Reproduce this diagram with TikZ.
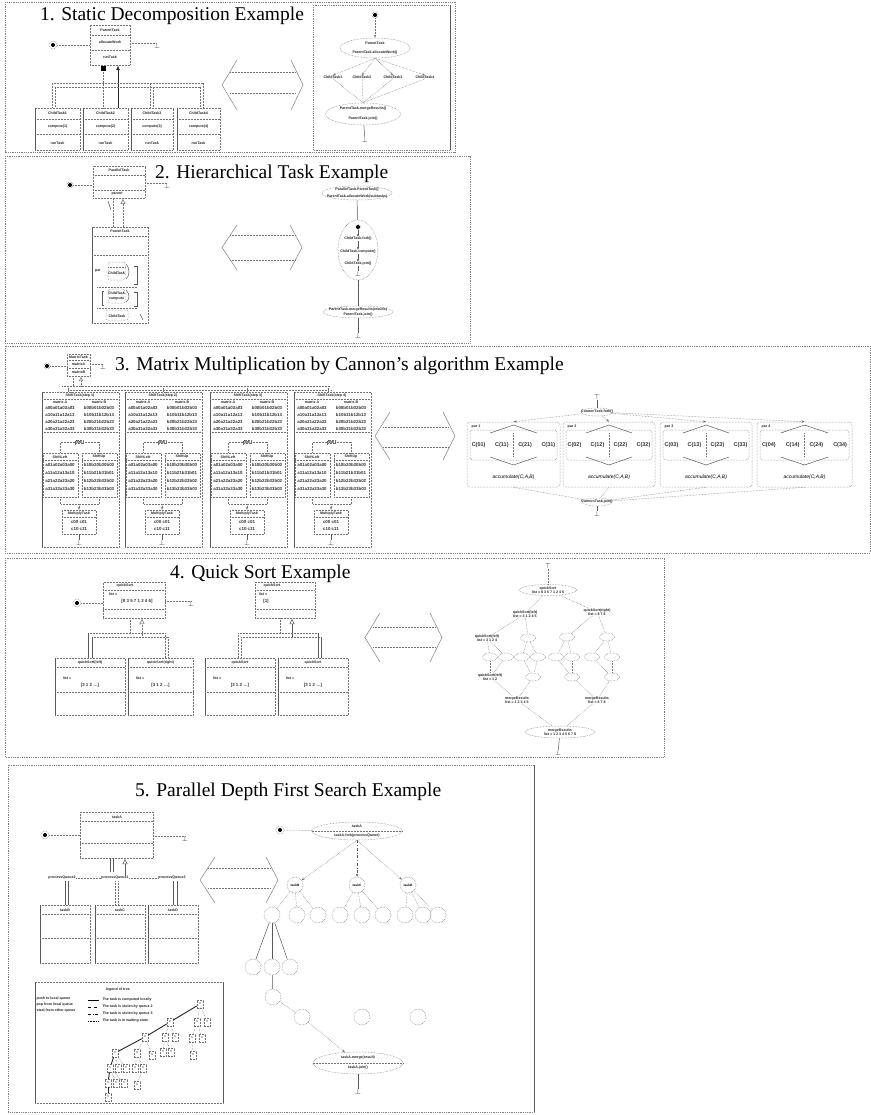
\documentclass[tikz,border=0pt]{standalone}
\usepackage{fontspec}
\setmainfont{Liberation Serif}
\newfontfamily\lsans{Liberation Sans}
\usetikzlibrary{shapes.geometric,fit,arrows.meta,calc}
\newcommand\chev[6]{%
  \pgfmathsetmacro\chm{(#3+#4)/2}%
  \draw[chv] (#1+15,#3) -- (#1,\chm) -- (#1+15,#4);
  \draw[chv] (#2-12,#3) -- (#2,\chm) -- (#2-12,#4);
  \draw[dl] (#1+8,#5) -- (#2-7,#5);
  \draw[dl] (#1+8,#6) -- (#2-7,#6);
}
\begin{document}
\begin{tikzpicture}[x=1pt,y=-1pt,
 frm/.style={draw=black!50,densely dotted,line width=0.8pt},
 dl/.style={draw=black!55,densely dotted,line width=0.5pt},
 sl/.style={draw=black!65,line width=0.5pt},
 tl/.style={draw=black!85,line width=0.9pt},
 chv/.style={draw=black!50,line width=0.5pt},
 bxs/.style={draw=black!55,densely dotted,line width=0.5pt,inner sep=0pt},
 ell/.style={ellipse,draw=black!55,densely dotted,line width=0.5pt,inner sep=0pt},
 sell/.style={ellipse,draw=black!55,densely dotted,line width=0.5pt,inner sep=0pt,minimum width=15pt,minimum height=8pt},
 cir/.style={circle,draw=black!55,densely dotted,line width=0.5pt,inner sep=0pt,minimum size=16pt,font=\lsans\bfseries\fontsize{3.2}{3.6}\selectfont},
 tx/.style={font=\lsans\bfseries\fontsize{3.6}{4.1}\selectfont,inner sep=0.3pt,text=black!85},
 mt/.style={font=\lsans\bfseries\fontsize{4.4}{5}\selectfont,inner sep=0pt,text=black!80},
 ttl/.style={font=\fontsize{19.5}{21}\selectfont,inner sep=0pt,anchor=west},
 initn/.style={circle,draw=black!55,densely dotted,line width=0.5pt,minimum size=8pt,inner sep=0pt,path picture={\fill[black] (path picture bounding box.center) circle (2pt);}},
 fin/.style={font=\fontsize{7}{7}\selectfont,inner sep=0pt,text=black!80},
 ar/.style={-{Stealth[length=3pt,width=2.4pt]}},
 oa/.style={-{Triangle[open,length=5pt,width=5pt]}},
 tn/.style={draw=black!55,densely dotted,line width=0.4pt,minimum width=6pt,minimum height=8pt,inner sep=0pt,font=\lsans\bfseries\fontsize{3}{3}\selectfont},
]
\useasboundingbox (0,0) rectangle (870,1115);
\fill[white] (0,0) rectangle (870,1115);

%%%%%%%%%%%%%%%%%%%% PANEL 1
\draw[frm] (5,2) rectangle (455,152);
\draw[frm] (313,5) rectangle (450,150);
\draw[sl] (450,5) -- (450,150);
\node[ttl] (T1) at (40,16) {1. Static Decomposition Example};
\node[bxs,fit={(90,25) (130,65)}] (P1) {};
\draw[dl] (90,35) -- (130,35);
\draw[dl] (90,50) -- (130,50);
\node[tx] (P1a) at (110,30) {ParentTask};
\node[tx] (P1b) at (110,42.5) {allocateWork};
\node[tx] (P1c) at (110,57.5) {runTask};
\node[initn] (I1) at (53,45) {};
\node[fin] (F1) at (157,46) {$\perp$};
\draw[dl] (I1) -- (P1.west |- I1);
\draw[dl] (P1.east |- F1.north) -- (F1.north);
\foreach \n/\a/\b/\i in {C11/35/80/1,C12/83/128/2,C13/131/173/3,C14/177/220/4} {
  \node[bxs,fit={(\a,108) (\b,150)}] (\n) {};
  \draw[dl] (\a,119) -- (\b,119);
  \draw[dl] (\a,134) -- (\b,134);
  \draw[sl] (\a,108) -- (\a,150);
  \node[tx] (\n-a) at ({(\a+\b)/2},113.5) {ChildTask\i};
  \node[tx] (\n-b) at ({(\a+\b)/2},127) {compute(\i)};
  \node[tx] (\n-c) at ({(\a+\b)/2},143) {runTask};
}
\node[fill=black,minimum size=5pt,inner sep=0pt] (SQ1) at (103,69) {};
\draw[dl] (SQ1) -- (SQ1 |- C12.north);
\draw[tl,-{Latex[length=5pt,width=4pt]}] (C12.north -| 118,0) -- (P1.south -| 118,0);
\draw[dl] (52,83) -- (203,83);
\draw[dl] (55,87) -- (200,87);
\draw[dl] (52,83) -- (52,108);
\draw[dl] (55,87) -- (55,108);
\draw[dl] (150,83) -- (150,108);
\draw[dl] (153,87) -- (153,108);
\draw[dl] (200,87) -- (200,108);
\draw[dl] (203,83) -- (203,108);
\chev{222}{303}{60}{110}{72}{93}
% right graph
\node[initn,minimum size=6pt] (I2) at (375,15) {};
\node[ell,minimum width=70pt,minimum height=20pt] (E11) at (375,48) {};
\node[tx] (E11a) at (375,43.5) {ParentTask};
\node[tx] (E11b) at (375,52.5) {ParentTask.allocateWork()};
\draw[dl,ar] (I2) -- (E11);
\node[ell,minimum width=75pt,minimum height=22pt] (E12) at (363,114) {};
\node[tx] (E12a) at (363,109) {ParentTask.mergeResults()};
\node[tx] (E12b) at (363,119) {ParentTask.join()};
\foreach \n/\x/\i in {K1/333/1,K2/362/2,K3/393/3,K4/425/4} {
  \node[tx] (\n) at (\x,77) {ChildTask\i};
  \draw[dl,ar] (E11.south) -- (\n.north);
  \draw[dl] (\n.south) -- (E12.north);
}
\node[fin] (F2) at (365,140) {$\perp$};
\draw[sl] (E12) -- (F2);

%%%%%%%%%%%%%%%%%%%% PANEL 2
\draw[frm] (5,156) rectangle (470,343);
\node[ttl] (T2) at (155,174) {2. Hierarchical Task Example};
\node[bxs,fit={(93,166) (145,198)}] (Q1) {};
\draw[dl] (93,175) -- (145,175);
\draw[dl] (93,190) -- (145,190);
\node[tx] (Q1a) at (119,170) {ParallelTask};
\node[tx] (Q1b) at (117,194) {parent};
\node[initn,minimum size=6pt] (I3) at (70,185) {};
\node[fin] (F3) at (167,186) {$\perp$};
\draw[dl] (I3) -- (Q1.west |- I3);
\draw[dl] (Q1.east |- F3.north) -- (F3.north);
\node[bxs,fit={(92,227) (148,323)}] (Q2) {};
\draw[sl,line width=0.8pt] (92,227) -- (92,323);
\draw[dl] (92,236) -- (148,236);
\draw[dl] (92,255) -- (148,255);
\node[tx] (Q2a) at (120,231.5) {ParentTask};
\draw[dl] (113,198) -- (113,227);
\draw[dl,oa] (123,227) -- (123,199);
\draw[sl] (108,201) -- (111,210);
% inner blocks
\node[tx] (Q2p) at (98,271) {par};
\node[bxs,rounded corners=2pt,fit={(108,262) (125,280)}] (QA2) {};
\draw[dl] (108,267) -- (125,267);
\node[tx] (QA2t) at (116.5,273) {ChildTask};
\draw[sl] (126,264) .. controls (130,268) and (130,276) .. (126,279);
\draw[sl] (134,266) -- (137,266) -- (137,284) -- (134,284);
\draw[dl] (97,287) -- (137,287);
\node[bxs,rounded corners=2pt,fit={(108,289) (125,303)}] (QB2) {};
\node[tx] (QB2t) at (116.5,293) {ChildTask};
\node[tx] (QB2u) at (116.5,299) {compute};
\draw[sl] (126,290) .. controls (130,294) and (130,299) .. (126,302);
\draw[sl] (134,292) -- (137,292) -- (137,306) -- (134,306);
\draw[sl] (104,291) -- (102,291) -- (102,305) -- (104,305);
\draw[dl] (97,308) -- (137,308);
\node[bxs,rounded corners=2pt,fit={(106,310) (128,320)}] (QC2) {};
\node[tx] (QC2t) at (117,316) {ChildTask};
\draw[sl] (140,314) -- (143,320);
\chev{222}{302}{225}{270}{235}{260}
\node[ell,minimum width=70pt,minimum height=14pt] (E21) at (357,193) {};
\node[tx] (E21a) at (357,190) {ParallelTask.ParentTask()};
\node[tx] (E21b) at (357,196.5) {ParentTask.allocateWork(subtasks)};
\node[ell,minimum width=40pt,minimum height=60pt] (E22) at (358,250) {};
\draw[sl] (E21) -- (E22);
\node[initn,minimum size=5pt] (E22a) at (358,227) {};
\node[tx] (E22b) at (358,239) {ChildTask.fork()};
\node[tx] (E22c) at (358,252) {ChildTask.compute()};
\node[tx] (E22d) at (358,264) {ChildTask.join()};
\node[fin] (E22e) at (358,274) {$\perp$};
\draw[sl,ar] (E22a) -- (E22b);
\draw[sl,ar] (E22b) -- (E22c);
\draw[sl,ar] (E22c) -- (E22d);
\draw[sl] (E22d) -- (E22e);
\node[ell,minimum width=70pt,minimum height=12pt] (E23) at (358,312) {};
\node[tx] (E23a) at (358,309.5) {ParentTask.mergeResults(results)};
\node[tx] (E23b) at (358,315) {ParentTask.join()};
\draw[sl] (E22) -- (E23);
\node[fin] (F4) at (358,336) {$\perp$};
\draw[sl] (E23) -- (F4);

%%%%%%%%%%%%%%%%%%%% PANEL 3
\draw[frm] (5,346) rectangle (870,553);
\node[ttl] (T3) at (115,366) {3. Matrix Multiplication by Cannon's algorithm Example};
\node[bxs,fit={(67,354) (90,376)}] (R0) {};
\draw[dl] (67,360) -- (90,360);
\draw[dl] (67,368) -- (90,368);
\node[tx] (R0a) at (78.5,357) {MatrixTask};
\node[tx] (R0b) at (78.5,364) {matrixA};
\node[tx] (R0c) at (78.5,372) {matrixB};
\node[initn,minimum size=6pt] (I5) at (47,366) {};
\node[fin] (F5) at (103,367) {$\perp$};
\draw[dl] (I5) -- (R0.west |- I5);
\draw[dl] (R0.east |- F5.north) -- (F5.north);
\draw[dl] (73,376) -- (73,386);
\draw[dl,-{Triangle[open,length=4pt,width=4pt]}] (81,386) -- (81,377);
\draw[dl] (62,386) -- (330,386);
\draw[dl] (68,390) -- (328,390);
\foreach \x in {68,163,247,328} {
  \draw[dl] (\x,386) -- (\x,392);
  \draw[dl] (\x+3,390) -- (\x+3,392);
}
\foreach \x [count=\k] in {42,125,210,294} {
  \node[bxs,fit={(\x,392) (\x+77,547)}] (M\k) {};
  \draw[sl] (\x,392) -- (\x,547);
  \node[tx] (M\k-t) at (\x+38,395.5) {ShiftTask(step \k)};
  \draw[dl] (\x,399) -- (\x+77,399);
  \node[tx] (M\k-ha) at (\x+18,402.5) {matrix A};
  \node[tx] (M\k-hb) at (\x+57,402.5) {matrix B};
  \foreach \r in {0,1,2,3} {
    \node[mt] (M\k-a\r) at (\x+18,408+7*\r) {a\r0a\r1a\r2a\r3};
    \node[mt] (M\k-b\r) at (\x+57,408+7*\r) {b\r0b\r1b\r2b\r3};
  }
  \draw[dl] (\x,432) -- (\x+77,432);
  \node[tx,draw=black!55,densely dotted,minimum width=8pt] (M\k-m) at (\x+37,442) {fork};
  \node[bxs,fit={(\x+1,453) (\x+36,497)}] (M\k-l) {};
  \node[bxs,fit={(\x+40,453) (\x+75,497)}] (M\k-r) {};
  \draw[dl] (M\k-m.west) -| (M\k-l.north);
  \draw[dl] (M\k-m.east) -| (M\k-r.north);
  \node[tx] (M\k-lt) at (\x+18,457) {ShiftLeft};
  \node[tx] (M\k-rt) at (\x+57,457) {ShiftUp};
  \draw[dl] (\x+1,460) -- (\x+36,460);
  \draw[dl] (\x+40,460) -- (\x+75,460);
  \foreach \r in {0,1,2,3} {
    \node[mt] (M\k-l\r) at (\x+18,465+8*\r) {a\r1a\r2a\r3a\r0};
    \node[mt] (M\k-r\r) at (\x+57,465+8*\r) {b1\r b2\r b3\r b0\r};
  }
  \coordinate (M\k-j) at (\x+37,504);
  \draw[dl] (M\k-l.south) |- (M\k-j);
  \draw[dl] (M\k-r.south) |- (M\k-j);
  \node[bxs,fit={(\x+20,510) (\x+54,534)}] (M\k-b) {};
  \draw[dl,ar] (M\k-j) -- (M\k-b.north);
  \node[tx] (M\k-bt) at (\x+37,513.5) {MultiplyTask};
  \draw[dl] (\x+20,517) -- (\x+54,517);
  \node[mt] (M\k-b1) at (\x+37,522) {c00 c01};
  \node[mt] (M\k-b2) at (\x+37,529) {c10 c11};
  \node[fin] (M\k-f) at (\x+37,543) {$\perp$};
  \draw[sl] (M\k-b.south) -- (M\k-f.north);
}
\chev{375}{455}{412}{460}{427}{447}
\node[ell,minimum width=32pt,minimum height=8pt] (H0) at (597,412) {};
\node[tx] (H0t) at (597,412) {CannonTask.fork()};
\node[fin,rotate=180] (H0i) at (597,397) {$\perp$};
\draw[sl] (H0i) -- (H0);
\node[ell,minimum width=30pt,minimum height=8pt] (H1) at (597,502) {};
\node[tx] (H1t) at (597,502) {CannonTask.join()};
\node[fin] (H2) at (597,514) {$\perp$};
\draw[sl] (H1) -- (H2);
\foreach \a/\b [count=\k] in {467/560,563/655,660/752,757/852} {
  \pgfmathsetmacro\w{\b-\a}
  \node[bxs,rounded corners=3pt,fit={(\a,422) (\b,487)}] (G\k) {};
  \node[bxs,rounded corners=3pt,fit={(\a+3,430) (\b-3,460)}] (G\k-i) {};
  \node[tx] (G\k-p) at (\a+9,427) {par \k};
  \foreach \c in {0,1,2,3} {
    \node[mt,font=\lsans\bfseries\fontsize{5.5}{6}\selectfont] (G\k-c\c) at (\a+\w/8+\w*\c/4,445) {C(\c\k)};
  }
  \draw[sl] (\a+\w/2,425) -- (\a+\w/4,433);
  \draw[sl] (\a+\w/2,425) -- (\a+3*\w/4,433);
  \draw[sl] (\a+\w/4,457) -- (\a+\w/2,465) -- (\a+3*\w/4,457);
  \draw[dl] (\a+\w/2,433) -- (\a+\w/2,457);
  \node[font=\lsans\itshape\fontsize{5}{5}\selectfont,inner sep=0pt] (G\k-s) at (\a+\w/2,477) {accumulate(C,A,B)};
  \draw[dl,ar] (H0) -- (G\k.north);
  \draw[dl] (G\k.south) -- (H1);
}

%%%%%%%%%%%%%%%%%%%% PANEL 4
\draw[frm] (5,558) rectangle (664,757);
\node[ttl] (T4) at (170,574) {4. Quick Sort Example};
\node[bxs,fit={(103,582) (165,618)}] (QSA) {};
\draw[dl] (103,590) -- (165,590);
\draw[dl] (103,609) -- (165,609);
\node[tx] (QSAa) at (125,586) {quickSort};
\node[tx] (QSAb) at (113,594) {list =};
\node[mt] (QSAc) at (137,601) {[8 3 5 7 1 2 4 6]};
\node[initn] (I6) at (77,603) {};
\node[fin] (F6) at (191,604) {$\perp$};
\draw[dl] (I6) -- (QSA.west |- I6);
\draw[dl] (QSA.east |- F6.north) -- (F6.north);
\node[bxs,fit={(255,582) (315,618)}] (QSB) {};
\draw[dl] (255,590) -- (315,590);
\draw[dl] (255,609) -- (315,609);
\node[tx] (QSBa) at (272,586) {quickSort};
\node[tx] (QSBb) at (263,594) {list =};
\node[mt] (QSBc) at (266,601) {[1]};
\foreach \a/\b/\t [count=\k] in {55/125/quickSort(left),128/193/quickSort(right),205/275/quickSort,278/348/quickSort} {
  \node[bxs,fit={(\a,658) (\b,715)}] (QC\k) {};
  \draw[sl] (\a,658) -- (\a,715);
  \draw[dl] (\a,667) -- (\b,667);
  \draw[dl] (\a,692) -- (\b,692);
  \node[tx] (QC\k-t) at ({(\a+\b)/2},662.5) {\t};
  \node[tx] (QC\k-l) at (\a+12,678) {list =};
  \node[mt] (QC\k-v) at ({(\a+\b)/2},685) {[3 1 2 \ldots]};
}
\draw[dl] (130,618) -- (130,633);
\draw[dl,oa] (142,637) -- (142,619);
\draw[dl] (88,633) -- (165,633);
\draw[dl] (92,637) -- (168,637);
\draw[sl] (88,633) -- (88,658);
\draw[sl] (92,637) -- (92,658);
\draw[dl] (165,633) -- (165,658);
\draw[dl] (168,637) -- (168,658);
\draw[dl] (280,618) -- (280,633);
\draw[sl,oa] (292,637) -- (292,619);
\draw[dl] (238,633) -- (318,633);
\draw[dl] (241,637) -- (321,637);
\draw[dl] (238,633) -- (238,658);
\draw[dl] (241,637) -- (241,658);
\draw[sl] (318,633) -- (318,658);
\draw[sl] (321,637) -- (321,658);
\chev{365}{442}{613}{662}{627}{647}
% tree
\node[fin,rotate=180] (S0i) at (548,566) {$\perp$};
\node[ell,minimum width=57pt,minimum height=11pt] (S0) at (548,590) {};
\node[tx,align=center] (S0t) at (548,590) {quickSort\\list = 8 3 5 7 1 2 4 6};
\draw[dl] (S0i) -- (S0);
\node[tx,align=center] (S1) at (525,614) {quickSort(left)\\list = 3 1 2 4 5};
\node[tx,align=center] (S2) at (597,612) {quickSort(right)\\list = 8 7 6};
\node[tx,align=center] (S3) at (487,638) {quickSort(left)\\list = 3 1 2 4};
\node[sell] (S4) at (528,638) {};
\node[sell] (S5) at (567,637) {};
\node[sell] (S6) at (607,637) {};
\foreach \x [count=\k from 7] in {490,506,522,538,556,572,592,612} {
  \node[sell] (S\k) at (\x,657) {};
}
\node[tx,align=center] (S15) at (490,677) {quickSort(left)\\list = 1 2};
\node[sell] (S16) at (533,677) {};
\node[sell] (S17) at (572,677) {};
\node[sell] (S18) at (612,677) {};
\node[tx,align=center] (S19) at (517,700) {mergeResults\\list = 1 2 3 4 5};
\node[tx,align=center] (S20) at (597,700) {mergeResults\\list = 6 7 8};
\node[ell,minimum width=70pt,minimum height=12pt] (S21) at (560,732) {};
\node[tx,align=center] (S21t) at (560,732) {mergeResults\\list = 1 2 3 4 5 6 7 8};
\node[fin] (S22) at (558,753) {$\perp$};
\foreach \u/\v in {S0/S1,S0/S2,S1/S3,S1/S4,S2/S5,S2/S6,S3/S7,S3/S8,S4/S9,S4/S10,S5/S11,S5/S12,S6/S13,S6/S14,S7/S15,S8/S15,S9/S16,S10/S16,S11/S17,S12/S17,S13/S18,S14/S18,S15/S19,S16/S19,S17/S20,S18/S20,S19/S21,S20/S21} {
  \draw[dl] (\u) -- (\v);
}
\draw[sl] (S21) -- (S22);

%%%%%%%%%%%%%%%%%%%% PANEL 5
\draw[frm] (8,765) rectangle (534,1112);
\draw[sl] (534,765) -- (534,1112);
\node[ttl] (T5) at (135,792) {5. Parallel Depth First Search Example};
\node[bxs,fit={(80,812) (153,858)}] (V0) {};
\draw[dl] (80,821) -- (153,821);
\draw[dl] (80,843) -- (153,843);
\node[tx] (V0t) at (117,817) {taskA};
\node[initn] (I7) at (45,835) {};
\draw[dl] (I7) -- (V0.west |- I7);
\node[fin] (F7) at (185,839) {$\perp$};
\draw[dl] (V0.east |- F7.north) -- (F7.north);
\draw[sl] (110,858) -- (110,872);
\draw[sl] (113,858) -- (113,872);
\draw[sl,oa] (125,876) -- (125,859);
\node[tx] (V1) at (62,878) {processQueue2};
\node[tx] (V2) at (115,878) {processQueue1};
\node[tx] (V3) at (172,878) {processQueue3};
\draw[dl] (V1) -- (V2);
\draw[dl] (V2) -- (V3);
\foreach \a/\t [count=\k] in {40/taskB,95/taskC,148/taskD} {
  \node[bxs,fit={(\a,905) (\a+50,963)}] (D\k) {};
  \draw[sl] (\a,905) -- (\a,963);
  \draw[dl] (\a,914) -- (\a+50,914);
  \draw[dl] (\a,938) -- (\a+50,938);
  \node[tx] (D\k-t) at (\a+25,910) {\t};
}
\draw[sl] (65,881) -- (65,905);
\draw[sl] (68,881) -- (68,905);
\draw[dl] (115,881) -- (115,905);
\draw[dl] (118,881) -- (118,905);
\draw[sl] (173,881) -- (173,905);
\draw[sl] (177,881) -- (177,905);
% legend
\node[bxs,fit={(35,982) (223,1103)}] (LG) {};
\draw[sl] (35,982) -- (35,1103);
\draw[sl] (223,982) -- (223,1103);
\node[tx] (LGt) at (118,990) {legend of tree};
\node[tx,anchor=west] (LGa) at (36,999) {push to local queue};
\node[tx,anchor=west] (LGb) at (36,1005) {pop from local queue};
\node[tx,anchor=west] (LGc) at (36,1011) {steal from other queue};
\draw[black,line width=0.8pt] (88,1000) -- (99,1000);
\draw[black,dashed,line width=0.6pt] (88,1007) -- (99,1007);
\draw[black,dash dot,line width=0.6pt] (88,1014) -- (99,1014);
\draw[black,densely dotted,line width=0.6pt] (88,1021) -- (99,1021);
\node[tx,anchor=west] (LGd) at (102,1000) {The task is computed locally};
\node[tx,anchor=west] (LGe) at (102,1007) {The task is stolen by queue 2};
\node[tx,anchor=west] (LGf) at (102,1014) {The task is stolen by queue 3};
\node[tx,anchor=west] (LGg) at (102,1021) {The task is in waiting state};
\foreach \n/\x/\y in {L0/200/1004,L1/170/1022,L2/197/1022,L3/207/1022,L4/192/1038,L5/202/1038,L6/193/1055,L7/145/1037,L8/165/1037,L9/175/1037,L10/163/1052,L11/171/1052,L12/115/1053,L13/137/1053,L14/152/1055,L15/135/1068,L16/143/1068,L17/137/1085,L18/110/1068,L19/118/1068,L20/126/1068,L21/108/1083,L22/116/1083,L23/124/1083,L24/108/1097} {
  \node[tn] (\n) at (\x,\y) {t};
}
\foreach \u/\v in {L0/L1,L1/L7,L7/L12,L12/L18,L18/L21,L21/L24} {
  \draw[tl] (\u) -- (\v);
}
\foreach \u/\v in {L0/L2,L0/L3,L2/L4,L2/L5,L4/L6,L1/L8,L1/L9,L8/L10,L8/L11,L7/L13,L7/L14,L13/L15,L13/L16,L16/L17,L12/L19,L12/L20,L18/L22,L18/L23} {
  \draw[dl] (\u) -- (\v);
}
\chev{200}{278}{857}{903}{868}{888}
% right graph
\node[initn] (I8) at (280,830) {};
\node[ell,minimum width=90pt,minimum height=18pt] (W0) at (357,831) {};
\draw[dl] (W0.west) -- (W0.east);
\node[tx] (W0a) at (357,826) {taskA};
\node[tx] (W0b) at (357,836) {taskA.fork(processQueue)};
\draw[dl] (I8) -- (W0);
\node[cir] (W1) at (295,885) {taskB};
\node[cir] (W2) at (357,885) {taskC};
\node[cir] (W3) at (408,885) {taskD};
\draw[dl,ar] (W0.south) -- (W1);
\draw[sl,dash dot,ar] (W0.south) -- (W2);
\draw[dl,ar] (W0.south) -- (W3);
\foreach \x [count=\k from 4] in {272,297,318,340,362,383,405,423,438} {
  \node[cir] (W\k) at (\x,915) {};
}
\foreach \u/\v in {W1/W4,W1/W5,W1/W6,W2/W7,W2/W8,W2/W9,W3/W10,W3/W11,W3/W12} {
  \draw[dl] (\u) -- (\v);
}
\node[cir] (W13) at (253,967) {};
\node[cir] (W14) at (272,967) {};
\node[cir] (W15) at (290,967) {};
\draw[sl] (W4) -- (W13);
\draw[sl] (W4) -- (W14);
\draw[sl] (W4) -- (W15);
\node[cir] (W16) at (273,997) {};
\draw[sl] (W14) -- (W16);
\node[cir] (W17) at (302,1017) {};
\draw[dl] (W16) -- (W17);
\node[cir] (W18) at (362,1017) {};
\node[cir] (W19) at (418,1017) {};
\node[ell,minimum width=90pt,minimum height=22pt] (W20) at (358,1063) {};
\draw[dl] (W20.west) -- (W20.east);
\node[tx] (W20a) at (358,1058) {taskA.merge(result)};
\node[tx] (W20b) at (358,1068) {taskA.join()};
\draw[dl,ar] (W17) -- (W20);
\node[fin] (W21) at (358,1092) {$\perp$};
\draw[sl] (W20) -- (W21);
\end{tikzpicture}
\end{document}
